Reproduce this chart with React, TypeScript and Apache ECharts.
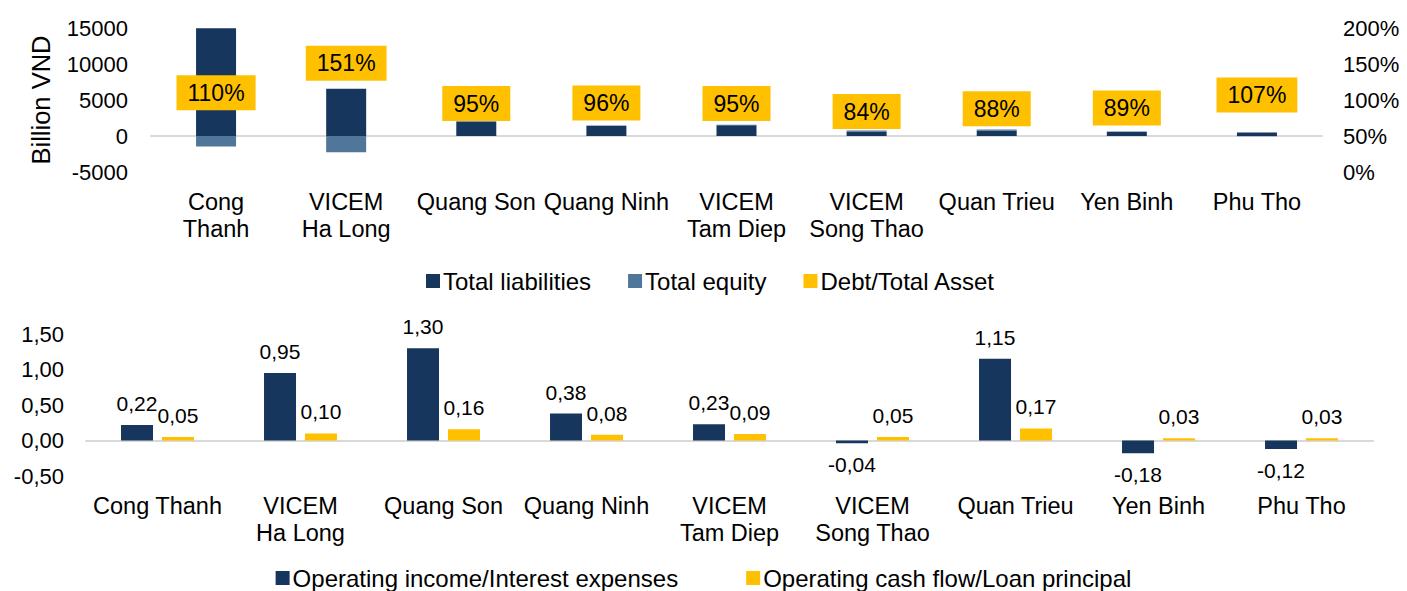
import React, { useEffect, useRef } from "react";
import * as echarts from "echarts";

const categories = ["Cong Thanh", "VICEM Ha Long", "Quang Son", "Quang Ninh", "VICEM Tam Diep", "VICEM Song Thao", "Quan Trieu", "Yen Binh", "Phu Tho"];
const topAxisLabels = ["Cong\nThanh", "VICEM\nHa Long", "Quang Son", "Quang Ninh", "VICEM\nTam Diep", "VICEM\nSong Thao", "Quan Trieu", "Yen Binh", "Phu Tho"];
const bottomAxisLabels = ["Cong Thanh", "VICEM\nHa Long", "Quang Son", "Quang Ninh", "VICEM\nTam Diep", "VICEM\nSong Thao", "Quan Trieu", "Yen Binh", "Phu Tho"];

const totalLiabilities = [14950, 6550, 1950, 1400, 1480, 620, 780, 550, 490];
const totalEquity = [-1450, -2250, 110, 60, 80, 140, 120, 70, -30];
const debtToAsset = [110, 151, 95, 96, 95, 84, 88, 89, 107];

const opIncomeInterest = [0.22, 0.95, 1.3, 0.38, 0.23, -0.04, 1.15, -0.18, -0.12];
const opCashLoan = [0.05, 0.1, 0.16, 0.08, 0.09, 0.05, 0.17, 0.03, 0.03];

const leftTicks = { min: -5000, max: 15000, interval: 5000 };
const rightTicks = { min: 0, max: 200, interval: 50 };
const bottomTicks = { min: -0.5, max: 1.5, interval: 0.5 };

const NAVY = "#17365D";
const STEEL = "#50769A";
const GOLD = "#FFC000";
const ZERO = "#D9D9D9";
const FONT = "'Liberation Sans', Arial, sans-serif";

const fmtComma = (v: number) => v.toFixed(2).replace(".", ",");

export default function App() {
  const ref = useRef<HTMLDivElement>(null);
  useEffect(() => {
    if (!ref.current) return;
    const chart = echarts.init(ref.current, null, { renderer: "svg" });
    const tickText = { fontSize: 22, color: "#000", fontFamily: FONT };
    const catText = { fontSize: 23.5, color: "#000", fontFamily: FONT, lineHeight: 27 };
    const legendText = { fontSize: 24, color: "#000", fontFamily: FONT, padding: [0, 0, 0, -2] };
    chart.setOption({
      animation: false,
      backgroundColor: "#fff",
      textStyle: { fontFamily: FONT },
      grid: [
        { left: 151, right: 85, top: 28, height: 144, containLabel: false },
        { left: 86, right: 34, top: 334, height: 142, containLabel: false },
      ],
      legend: [
        {
          left: 426,
          top: 269,
          padding: 0,
          itemWidth: 14,
          itemHeight: 14,
          itemGap: 37,
          textStyle: legendText,
          data: [
            { name: "Total liabilities", icon: "rect" },
            { name: "Total equity", icon: "rect" },
            { name: "Debt/Total Asset", icon: "rect", itemStyle: { color: GOLD, opacity: 1 } },
          ],
        },
        {
          left: "center",
          top: 566,
          padding: 0,
          itemWidth: 14,
          itemHeight: 14,
          itemGap: 68,
          textStyle: legendText,
          data: [
            { name: "Operating income/Interest expenses", icon: "rect" },
            { name: "Operating cash flow/Loan principal", icon: "rect" },
          ],
        },
      ],
      xAxis: [
        {
          gridIndex: 0,
          type: "category",
          data: categories,
          position: "bottom",
          axisLine: { show: false, onZero: false },
          axisTick: { show: false },
          axisLabel: { interval: 0, margin: 16, ...catText, formatter: (_v: string, i: number) => topAxisLabels[i] },
        },
        {
          gridIndex: 0,
          type: "category",
          data: categories,
          position: "bottom",
          axisLine: { show: true, onZero: true, onZeroAxisIndex: 0, lineStyle: { color: ZERO, width: 2 } },
          axisTick: { show: false },
          axisLabel: { show: false },
        },
        {
          gridIndex: 1,
          type: "category",
          data: categories,
          position: "bottom",
          axisLine: { show: false, onZero: false },
          axisTick: { show: false },
          axisLabel: { interval: 0, margin: 16, ...catText, formatter: (_v: string, i: number) => bottomAxisLabels[i] },
        },
        {
          gridIndex: 1,
          type: "category",
          data: categories,
          position: "bottom",
          axisLine: { show: true, onZero: true, onZeroAxisIndex: 2, lineStyle: { color: ZERO, width: 2 } },
          axisTick: { show: false },
          axisLabel: { show: false },
        },
      ],
      yAxis: [
        {
          gridIndex: 0,
          type: "value",
          ...leftTicks,
          name: "Billion VND",
          nameLocation: "middle",
          nameGap: 97,
          nameTextStyle: { fontSize: 25.5, color: "#000", fontFamily: FONT },
          axisLine: { show: false },
          axisTick: { show: false },
          splitLine: { show: false },
          axisLabel: { margin: 23, ...tickText, formatter: (v: number) => String(v) },
        },
        {
          gridIndex: 0,
          type: "value",
          position: "right",
          ...rightTicks,
          axisLine: { show: false },
          axisTick: { show: false },
          splitLine: { show: false },
          axisLabel: { margin: 21, ...tickText, formatter: (v: number) => `${v}%` },
        },
        {
          gridIndex: 1,
          type: "value",
          ...bottomTicks,
          axisLine: { show: false },
          axisTick: { show: false },
          splitLine: { show: false },
          axisLabel: { margin: 22, ...tickText, formatter: (v: number) => fmtComma(v) },
        },
      ],
      series: [
        {
          name: "Total liabilities",
          type: "bar",
          xAxisIndex: 0,
          yAxisIndex: 0,
          stack: "a",
          barWidth: 40,
          color: NAVY,
          itemStyle: { color: NAVY },
          data: totalLiabilities,
        },
        {
          name: "Total equity",
          type: "bar",
          xAxisIndex: 0,
          yAxisIndex: 0,
          stack: "a",
          barWidth: 40,
          color: STEEL,
          itemStyle: { color: STEEL },
          data: totalEquity,
        },
        {
          name: "Debt/Total Asset",
          type: "scatter",
          xAxisIndex: 0,
          yAxisIndex: 1,
          symbolSize: 1,
          color: GOLD,
          itemStyle: { color: "rgba(255,192,0,0)", opacity: 1 },
          z: 5,
          label: {
            show: true,
            position: "inside",
            formatter: (p: any) => `${p.value}%`,
            backgroundColor: GOLD,
            padding: [7, 11, 5, 11],
            fontSize: 23,
            color: "#000",
            fontFamily: FONT,
          },
          data: debtToAsset,
        },
        {
          name: "Operating income/Interest expenses",
          type: "bar",
          xAxisIndex: 2,
          yAxisIndex: 2,
          barWidth: 32,
          barGap: "28%",
          color: NAVY,
          itemStyle: { color: NAVY },
          label: {
            show: true,
            position: "top",
            distance: 11,
            fontSize: 21,
            color: "#000",
            fontFamily: FONT,
            formatter: (p: any) => fmtComma(p.value),
          },
          data: opIncomeInterest.map((v) => ({
            value: v,
            label: { position: v < 0 ? "bottom" : "top" },
          })),
        },
        {
          name: "Operating cash flow/Loan principal",
          type: "bar",
          xAxisIndex: 2,
          yAxisIndex: 2,
          barWidth: 32,
          barGap: "28%",
          color: GOLD,
          itemStyle: { color: GOLD },
          label: {
            show: true,
            position: "top",
            distance: 11,
            fontSize: 21,
            color: "#000",
            fontFamily: FONT,
            formatter: (p: any) => fmtComma(p.value),
          },
          data: opCashLoan,
        },
      ],
    });
    return () => chart.dispose();
  }, []);
  return <div ref={ref} style={{ position: "fixed", left: 0, top: 0, width: 1407, height: 591 }} />;
}
